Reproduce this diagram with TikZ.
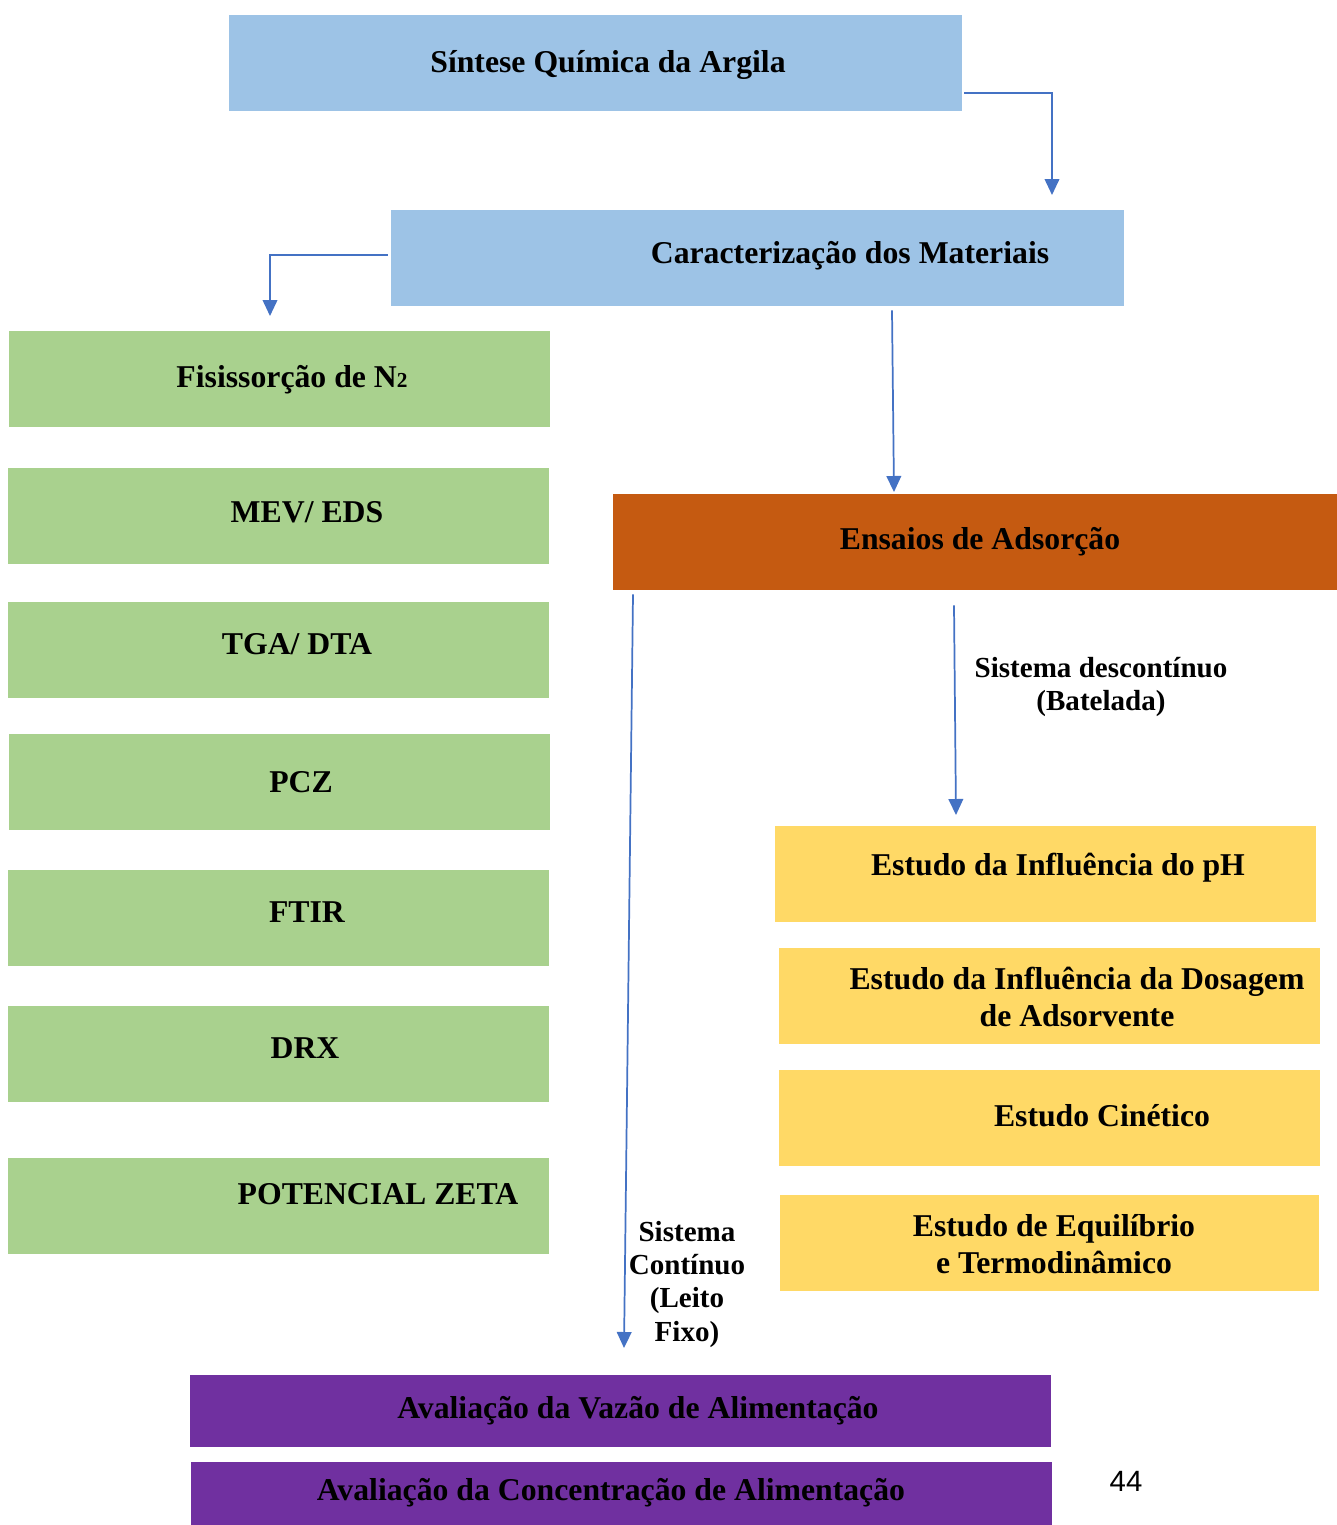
\documentclass[tikz,border=0pt]{standalone}
\usepackage{fontspec}
\setmainfont{Liberation Serif}
\newfontfamily\pagenofont{Liberation Sans}
\usetikzlibrary{arrows.meta}
\usetikzlibrary{positioning}

\newdimen\pxu
\pxu=0.75pt

\definecolor{boxBlue}{RGB}{157,195,230}
\definecolor{boxGreen}{RGB}{169,209,142}
\definecolor{boxOrange}{RGB}{197,90,17}
\definecolor{boxYellow}{RGB}{255,217,102}
\definecolor{boxPurple}{RGB}{112,48,160}
\definecolor{lineBlue}{RGB}{68,114,196}

\newcommand{\boxfont}{\fontsize{23.8}{27.8}\selectfont\bfseries}
\newcommand{\notefont}{\fontsize{21.8}{25}\selectfont\bfseries}

\tikzset{
  box/.style={inner sep=0pt, minimum height=96\pxu},
  bluebox/.style={box, fill=boxBlue},
  greenbox/.style={box, fill=boxGreen, minimum width=541\pxu},
  yellowbox/.style={box, fill=boxYellow, minimum width=541\pxu},
  purplebox/.style={box, fill=boxPurple, minimum width=861\pxu},
  boxtext/.style={inner sep=0pt, align=center, font=\boxfont},
  note/.style={inner sep=0pt, align=center, font=\notefont},
  arr/.style={draw=lineBlue, line width=1.3pt, -{Triangle[width=11pt,length=12pt]}}
}

\begin{document}
\begin{tikzpicture}[x=0.75pt, y=-0.75pt]
  \useasboundingbox (0,0) rectangle (1337,1525);

  % top boxes
  \node[bluebox, minimum width=733\pxu] (sintese) at (595.5,63) {};
  \node[boxtext] (sintese-t) at (608,65) {Síntese Química da Argila};
  \node[bluebox, minimum width=733\pxu] (carac) at (757.5,258) {};
  \node[boxtext] (carac-t) at (850,256) {Caracterização dos Materiais};

  % characterisation techniques
  \node[greenbox] (fis) at (279.5,379) {};
  \node[boxtext] (fis-t) at (292,380) {Fisissorção de N{\fontsize{16}{16}\selectfont 2}};
  \node[greenbox] (mev) at (278.5,516) {};
  \node[boxtext] (mev-t) at (307,512) {MEV/ EDS};
  \node[greenbox] (tga) at (278.5,650) {};
  \node[boxtext] (tga-t) at (297,644) {TGA/ DTA};
  \node[greenbox] (pcz) at (279.5,782) {};
  \node[boxtext] (pcz-t) at (301,782) {PCZ};
  \node[greenbox] (ftir) at (278.5,918) {};
  \node[boxtext] (ftir-t) at (307,912) {FTIR};
  \node[greenbox] (drx) at (278.5,1054) {};
  \node[boxtext] (drx-t) at (305,1048) {DRX};
  \node[greenbox] (zeta) at (278.5,1206) {};
  \node[boxtext] (zeta-t) at (378,1194) {POTENCIAL ZETA};

  % adsorption
  \node[box, fill=boxOrange, minimum width=724\pxu] (ens) at (975,542) {};
  \node[boxtext] (ens-t) at (980,542) {Ensaios de Adsorção};

  % batch studies
  \node[yellowbox] (ph) at (1045.5,874) {};
  \node[boxtext] (ph-t) at (1058,868) {Estudo da Influência do pH};
  \node[yellowbox] (dos) at (1049.5,996) {};
  \node[boxtext] (dos-t) at (1077,997) {Estudo da Influência da Dosagem\\de Adsorvente};
  \node[yellowbox] (cin) at (1049.5,1118) {};
  \node[boxtext] (cin-t) at (1102,1116) {Estudo Cinético};
  \node[yellowbox, minimum width=539\pxu] (equi) at (1049.5,1243) {};
  \node[boxtext] (equi-t) at (1054,1244) {Estudo de Equilíbrio\\e Termodinâmico};

  % fixed bed studies
  \node[purplebox, minimum height=72\pxu] (vaz) at (620.5,1411) {};
  \node[boxtext] (vaz-t) at (638,1411) {Avaliação da Vazão de Alimentação};
  \node[purplebox, minimum height=63\pxu] (conc) at (621.5,1493.5) {};
  \node[boxtext] (conc-t) at (611,1493) {Avaliação da Concentração de Alimentação};

  % arrow ends
  \coordinate (to-carac) at (1052,195);
  \coordinate (to-fis) at (270,316);
  \coordinate (to-ens) at (894,492);
  \coordinate (to-ph) at (956,815);
  \coordinate (to-vaz) at (624,1348);

  \draw[arr] ([xshift=2\pxu]sintese.east |- 0,93) -| (to-carac);
  \draw[arr] ([xshift=-3\pxu]carac.west |- 0,255) -| (to-fis);
  \draw[arr] ([yshift=-4\pxu]892,0 |- carac.south) -- (to-ens);
  \draw[arr] ([yshift=-15\pxu]954,0 |- ens.south) -- (to-ph);
  \draw[arr] ([yshift=-4\pxu]633,0 |- ens.south) -- (to-vaz);

  \node[note] (batch) at (1101,687) {Sistema descontínuo\\(Batelada)};
  \node[note] (cont) at (687,1284) {Sistema\\Contínuo\\(Leito\\Fixo)};

  \node[font=\pagenofont\fontsize{22}{26}\selectfont] (page) at (1126,1481) {44};
\end{tikzpicture}
\end{document}
